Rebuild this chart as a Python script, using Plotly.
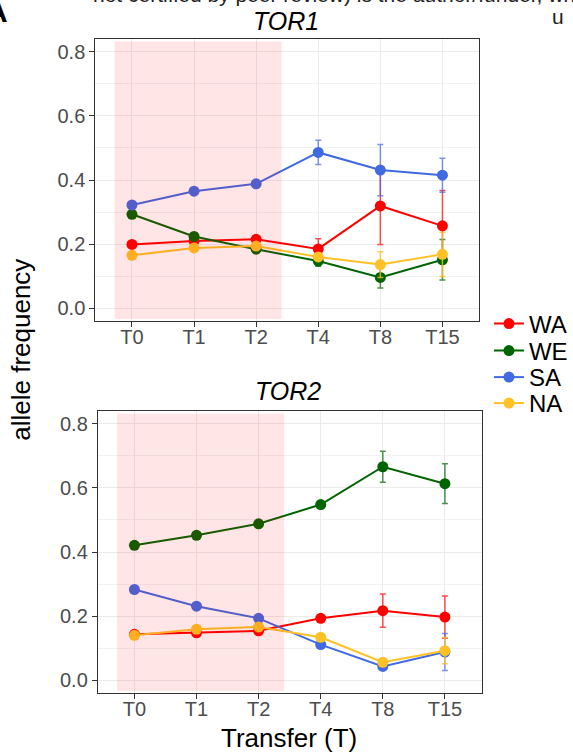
import plotly.graph_objects as go

# Transfer time points
timepoints = ["T0", "T1", "T2", "T4", "T8", "T15"]
populations = ["WA", "WE", "SA", "NA"]
colors = {"WA": "#FF0000", "WE": "#006400", "SA": "#4169E1", "NA": "#FFC125"}
err_colors = {"WA": "rgba(255,0,0,0.7)", "WE": "rgba(0,100,0,0.7)",
              "SA": "rgba(65,105,225,0.7)", "NA": "rgba(255,193,37,0.8)"}

# TOR1 allele frequencies (mean) and error (sd)
tor1_WA = [0.199, 0.210, 0.215, 0.185, 0.319, 0.257]
tor1_WE = [0.293, 0.224, 0.184, 0.147, 0.096, 0.151]
tor1_SA = [0.322, 0.365, 0.388, 0.486, 0.431, 0.415]
tor1_NA = [0.165, 0.188, 0.194, 0.160, 0.136, 0.168]
tor1_WA_err = [0.0, 0.0, 0.004, 0.032, 0.120, 0.110]
tor1_WE_err = [0.0, 0.0, 0.006, 0.016, 0.033, 0.063]
tor1_SA_err = [0.0, 0.0, 0.0, 0.038, 0.080, 0.053]
tor1_NA_err = [0.0, 0.0, 0.006, 0.010, 0.040, 0.069]

# TOR2 allele frequencies (mean) and error (sd)
tor2_WA = [0.143, 0.148, 0.154, 0.193, 0.217, 0.197]
tor2_WE = [0.421, 0.452, 0.488, 0.548, 0.666, 0.613]
tor2_SA = [0.283, 0.231, 0.193, 0.111, 0.043, 0.088]
tor2_NA = [0.140, 0.159, 0.166, 0.134, 0.056, 0.092]
tor2_WA_err = [0.0, 0.0, 0.0, 0.006, 0.052, 0.066]
tor2_WE_err = [0.0, 0.0, 0.0, 0.008, 0.048, 0.062]
tor2_SA_err = [0.0, 0.0, 0.0, 0.004, 0.008, 0.058]
tor2_NA_err = [0.0, 0.0, 0.0, 0.004, 0.008, 0.041]

tor1 = {"WA": (tor1_WA, tor1_WA_err), "WE": (tor1_WE, tor1_WE_err),
        "SA": (tor1_SA, tor1_SA_err), "NA": (tor1_NA, tor1_NA_err)}
tor2 = {"WA": (tor2_WA, tor2_WA_err), "WE": (tor2_WE, tor2_WE_err),
        "SA": (tor2_SA, tor2_SA_err), "NA": (tor2_NA, tor2_NA_err)}

# shaded transfers with selection
shade_x = (-0.28, 2.41)
shade_y = (-0.034, 0.832)

W, H = 573, 756
FONT = "Liberation Sans, Arial, Helvetica, sans-serif"

fig = go.Figure()
xpos = list(range(len(timepoints)))
legend_ids = ["legend", "legend2", "legend3", "legend4"]

for panel, data in (("1", tor1), ("2", tor2)):
    xa = "x" if panel == "1" else "x2"
    ya = "y" if panel == "1" else "y2"
    for i, pop in enumerate(populations):
        vals, err = data[pop]
        fig.add_trace(go.Scatter(
            x=xpos, y=vals, xaxis=xa, yaxis=ya,
            mode="lines+markers", name=pop,
            legend=legend_ids[i], showlegend=(panel == "1"),
            line=dict(color=colors[pop], width=2),
            marker=dict(color=colors[pop], size=11),
            error_y=dict(type="data", array=err, visible=True,
                         color=err_colors[pop], thickness=1.5, width=3),
        ))

axis_common = dict(
    showline=True, mirror=True, linecolor="#333333", linewidth=1,
    ticks="outside", ticklen=5, tickcolor="#333333", tickwidth=1,
    gridcolor="#EBEBEB", gridwidth=1, zeroline=False,
    tickfont=dict(family=FONT, size=20, color="#4D4D4D"),
)
xdef = dict(axis_common, range=[-0.59, 5.59], tickvals=xpos, ticktext=timepoints,
            ticklabelstandoff=-7)
ydef = dict(axis_common, range=[-0.039, 0.839], tickvals=[0, 0.2, 0.4, 0.6, 0.8],
            ticktext=["0.0", "0.2", "0.4", "0.6", "0.8"],
            minor=dict(tickvals=[0.1, 0.3, 0.5, 0.7], showgrid=True,
                       gridcolor="#F2F2F2", gridwidth=1, ticks=""))

# one legend box per population so the key rows sit close together
legend_rows = [324, 351, 377.5, 403.5]
legend_layout = {}
for lid, row in zip(legend_ids, legend_rows):
    legend_layout[lid] = dict(x=495 / W, y=(H - row) / H, xanchor="left", yanchor="middle",
                              font=dict(family=FONT, size=24, color="black"),
                              itemwidth=30, bgcolor="rgba(0,0,0,0)")

fig.update_layout(
    width=W, height=H, margin=dict(l=0, r=0, t=0, b=0),
    paper_bgcolor="white", plot_bgcolor="white",
    xaxis=dict(xdef, domain=[96.5 / W, 485 / W], anchor="y"),
    yaxis=dict(ydef, domain=[(H - 320.7) / H, (H - 39.3) / H], anchor="x"),
    xaxis2=dict(xdef, domain=[99 / W, 487.5 / W], anchor="y2"),
    yaxis2=dict(ydef, domain=[(H - 692.7) / H, (H - 411.3) / H], anchor="x2"),
    font=dict(family=FONT),
    **legend_layout,
)

for xa, ya in (("x", "y"), ("x2", "y2")):
    fig.add_shape(type="rect", xref=xa, yref=ya,
                  x0=shade_x[0], x1=shade_x[1], y0=shade_y[0], y1=shade_y[1],
                  fillcolor="rgba(255,0,0,0.1)", line=dict(width=0), layer="above")

ann = [
    dict(text="<i>TOR1</i>", x=290 / W, y=(H - 21) / H, font=dict(size=25)),
    dict(text="<i>TOR2</i>", x=292 / W, y=(H - 391) / H, font=dict(size=25)),
    dict(text="Transfer (T)", x=293 / W, y=(H - 738) / H, font=dict(size=26)),
    dict(text="allele frequency", x=21 / W, y=(H - 350) / H, font=dict(size=26),
         textangle=-90),
]
for a in ann:
    fig.add_annotation(xref="paper", yref="paper", showarrow=False,
                       xanchor="center", yanchor="middle",
                       text=a["text"], x=a["x"], y=a["y"],
                       textangle=a.get("textangle", 0),
                       font=dict(family=FONT, color="black", size=a["font"]["size"]))

# page header and panel letter
fig.add_annotation(xref="paper", yref="paper", x=92 / W, y=1, xanchor="left",
                   yanchor="bottom", yshift=-8, showarrow=False,
                   text="not certified by peer review) is the author/funder, who has granted bioRxiv a license",
                   font=dict(family=FONT, size=21, color="#222222"))
fig.add_annotation(xref="paper", yref="paper", x=557 / W, y=(H - 17) / H, xanchor="left",
                   yanchor="middle", showarrow=False, text="u",
                   font=dict(family=FONT, size=21, color="#222222"))
fig.add_annotation(xref="paper", yref="paper", x=10 / W, y=(H - 23) / H, xanchor="right",
                   yanchor="bottom", yshift=-7, showarrow=False, text="<b>A</b>",
                   font=dict(family=FONT, size=30, color="black"))

fig.write_html("out.html")
